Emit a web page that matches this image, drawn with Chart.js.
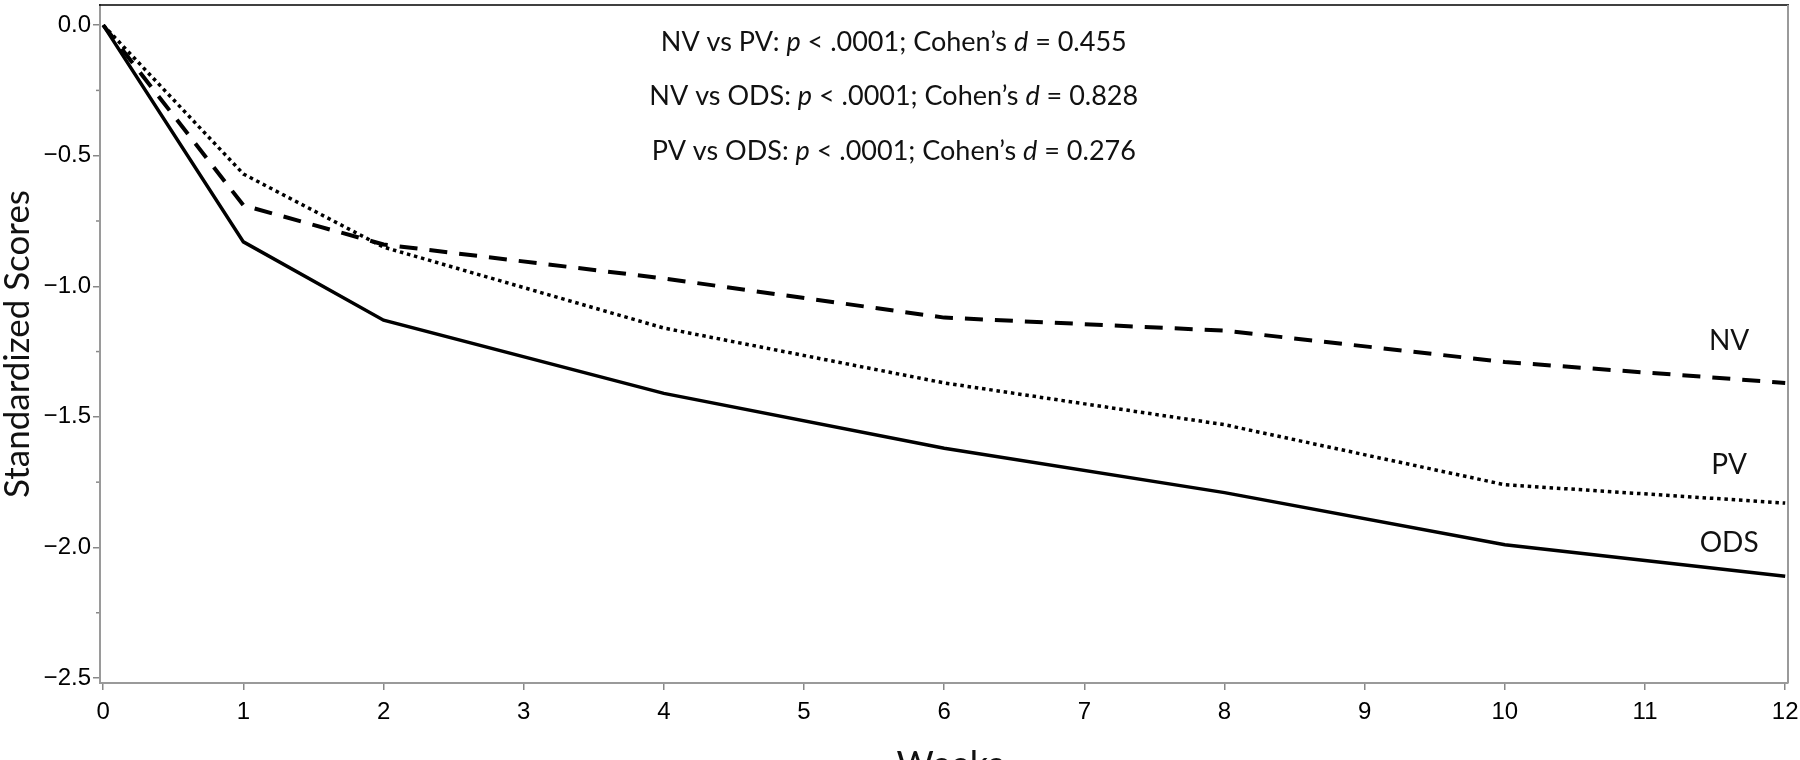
<!DOCTYPE html>
<html>
<head>
<meta charset="utf-8">
<script src="https://cdn.jsdelivr.net/npm/chart.js@4/dist/chart.umd.min.js"></script>
<style>
html,body{margin:0;padding:0;background:#fff;overflow:hidden;}
#wrap{width:1800px;height:760px;position:relative;}
</style>
</head>
<body>
<div id="wrap"><canvas id="c" width="1800" height="760"></canvas></div>
<script>
const weeks = [0, 1, 2, 4, 6, 8, 10, 12];
const nvScores  = [0, -0.69, -0.84, -0.97, -1.12, -1.17, -1.29, -1.37];
const pvScores  = [0, -0.57, -0.85, -1.16, -1.37, -1.53, -1.76, -1.83];
const odsScores = [0, -0.83, -1.13, -1.41, -1.62, -1.79, -1.99, -2.11];
const xTicks = [0,1,2,3,4,5,6,7,8,9,10,11,12];
const yTicks = [0, -0.5, -1.0, -1.5, -2.0, -2.5];
const yMinorTicks = [-0.25, -0.75, -1.25, -1.75, -2.25];
const seriesNames = ['NV', 'PV', 'ODS'];
const annotationLines = [
  [["NV vs PV: ", false], ["p", true], [" < .0001; Cohen\u2019s ", false], ["d", true], [" = 0.455", false]],
  [["NV vs ODS: ", false], ["p", true], [" < .0001; Cohen\u2019s ", false], ["d", true], [" = 0.828", false]],
  [["PV vs ODS: ", false], ["p", true], [" < .0001; Cohen\u2019s ", false], ["d", true], [" = 0.276", false]]
];

const toPts = (arr) => weeks.map((w, i) => ({x: w, y: arr[i]}));

const TEXT_FONT = 'Lato, "Open Sans", sans-serif';
const TICK_FONT = '"Liberation Sans", Arial, sans-serif';

const decor = {
  id: 'decor',
  afterDraw(chart) {
    const ctx = chart.ctx;
    const xs = chart.scales.x, ys = chart.scales.y;
    const a = chart.chartArea;
    ctx.save();
    ctx.strokeStyle = '#000';
    ctx.lineWidth = 1.5;
    ctx.beginPath();
    ctx.moveTo(a.left - 1, a.top);
    ctx.lineTo(a.right + 1, a.top);
    ctx.stroke();
    ctx.strokeStyle = '#9a9a9a';
    ctx.lineWidth = 2;
    ctx.beginPath();
    ctx.moveTo(a.right, a.top);
    ctx.lineTo(a.right, a.bottom);
    ctx.stroke();
    ctx.strokeStyle = '#888';
    ctx.lineWidth = 1.5;
    yMinorTicks.forEach(v => {
      const py = ys.getPixelForValue(v);
      ctx.beginPath();
      ctx.moveTo(a.left - 4, py);
      ctx.lineTo(a.left - 1, py);
      ctx.stroke();
    });
    ctx.fillStyle = '#111';
    ctx.textBaseline = 'middle';
    ctx.textAlign = 'left';
    const cx = xs.getPixelForValue(5.64);
    const yVals = [-0.067, -0.273, -0.484];
    annotationLines.forEach((segs, i) => {
      let total = 0;
      segs.forEach(([t, it]) => {
        ctx.font = (it ? 'italic ' : '') + '27px ' + TEXT_FONT;
        total += ctx.measureText(t).width;
      });
      let x = cx - total / 2;
      const y = ys.getPixelForValue(yVals[i]);
      segs.forEach(([t, it]) => {
        ctx.font = (it ? 'italic ' : '') + '27px ' + TEXT_FONT;
        ctx.fillText(t, x, y);
        x += ctx.measureText(t).width;
      });
    });
    ctx.font = '28px ' + TEXT_FONT;
    ctx.textAlign = 'center';
    const labPos = [[11.6, -1.21], [11.6, -1.685], [11.6, -1.983]];
    seriesNames.forEach((n, i) => {
      ctx.fillText(n, xs.getPixelForValue(labPos[i][0]), ys.getPixelForValue(labPos[i][1]));
    });
    ctx.font = '36px ' + TEXT_FONT;
    ctx.fillText('Weeks', (a.left + a.right) / 2 + 6, 765);
    ctx.restore();
  }
};

new Chart(document.getElementById('c'), {
  type: 'line',
  data: {
    datasets: [
      {label: 'NV', data: toPts(nvScores), borderColor: '#000', borderWidth: 4, borderDash: [18, 12], borderCapStyle: 'butt', pointRadius: 0, tension: 0, fill: false},
      {label: 'PV', data: toPts(pvScores), borderColor: '#000', borderWidth: 3.5, borderDash: [3.5, 3.8], borderCapStyle: 'butt', pointRadius: 0, tension: 0, fill: false},
      {label: 'ODS', data: toPts(odsScores), borderColor: '#000', borderWidth: 3.5, pointRadius: 0, tension: 0, fill: false}
    ]
  },
  options: {
    responsive: false,
    animation: false,
    layout: {padding: {top: 5, right: 12, left: 0, bottom: 0}},
    plugins: {legend: {display: false}, tooltip: {enabled: false}},
    scales: {
      x: {
        type: 'linear',
        min: -0.023, max: 12.02,
        afterBuildTicks: (s) => { s.ticks = xTicks.map(v => ({value: v})); },
        afterFit: (s) => { s.height = 77; s.paddingLeft = 0; s.paddingRight = 0; },
        grid: {drawOnChartArea: false, drawTicks: true, tickLength: 7, color: '#888', lineWidth: 1.5},
        border: {display: true, color: '#9a9a9a', width: 2},
        ticks: {color: '#000', padding: 8, font: {family: TICK_FONT, size: 24}, maxRotation: 0, autoSkip: false,
          callback: (v) => String(v)}
      },
      y: {
        type: 'linear',
        min: -2.519, max: 0.077,
        afterBuildTicks: (s) => { s.ticks = yTicks.map(v => ({value: v})); },
        afterFit: (s) => { s.width = 100; s.paddingTop = 0; s.paddingBottom = 0; },
        grid: {drawOnChartArea: false, drawTicks: true, tickLength: 7, color: '#888', lineWidth: 1.5},
        border: {display: true, color: '#9a9a9a', width: 2},
        ticks: {color: '#000', padding: 2, font: {family: TICK_FONT, size: 24}, autoSkip: false,
          callback: (v) => v === 0 ? '0.0' : '\u2212' + Math.abs(v).toFixed(1)},
        title: {display: true, text: 'Standardized Scores', color: '#111', font: {family: TEXT_FONT, size: 35, lineHeight: 1.0}, padding: {top: 0, bottom: 0}}
      }
    }
  },
  plugins: [decor]
});
</script>
</body>
</html>
